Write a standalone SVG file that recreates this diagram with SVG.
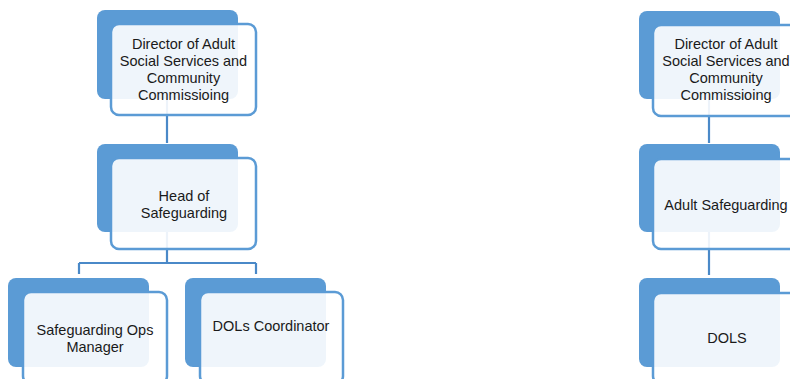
<svg xmlns="http://www.w3.org/2000/svg" width="790" height="379" viewBox="0 0 790 379">
<style>
.back{fill:#5B9BD5;}
.front{fill:#FFFFFF;fill-opacity:0.9;stroke:#5B9BD5;stroke-width:2.5;}
.conn{fill:none;stroke:#4A89C8;stroke-width:2.2;}
text{font-family:"Liberation Sans",Arial,sans-serif;font-size:14.5px;fill:#1a1a1a;text-anchor:middle;}
</style>
<rect width="790" height="379" fill="#FFFFFF"/>
<g id="connectors">
<path class="conn" d="M167,99 V143"/>
<path class="conn" d="M167,232 V263 M79,263 H256 M79,263 V274 M256,263 V274"/>
<path class="conn" d="M709,99 V143"/>
<path class="conn" d="M709,232 V275"/>
</g>
<g id="n1">
<rect class="back" x="97" y="10" width="141" height="89" rx="8"/>
<rect class="front" x="111" y="24" width="145" height="91" rx="8"/>
<text x="183.5"><tspan x="183.5" y="49">Director of Adult</tspan><tspan x="183.5" y="66">Social Services and</tspan><tspan x="183.5" y="83">Community</tspan><tspan x="183.5" y="100">Commissioing</tspan></text>
</g>
<g id="n2">
<rect class="back" x="97" y="144" width="141" height="88" rx="8"/>
<rect class="front" x="111" y="158" width="145" height="91" rx="8"/>
<text><tspan x="184" y="201">Head of</tspan><tspan x="184" y="218">Safeguarding</tspan></text>
</g>
<g id="n3">
<rect class="back" x="8" y="278" width="141" height="89" rx="8"/>
<rect class="front" x="23" y="292" width="144" height="92" rx="8"/>
<text><tspan x="95" y="335">Safeguarding Ops</tspan><tspan x="95" y="352">Manager</tspan></text>
</g>
<g id="n4">
<rect class="back" x="185" y="278" width="141" height="89" rx="8"/>
<rect class="front" x="200" y="292" width="143" height="92" rx="8"/>
<text x="271" y="331">DOLs Coordinator</text>
</g>
<g id="n5">
<rect class="back" x="639" y="11" width="141" height="88" rx="8"/>
<rect class="front" x="653" y="25" width="145" height="91" rx="8"/>
<text><tspan x="726" y="49">Director of Adult</tspan><tspan x="726" y="66">Social Services and</tspan><tspan x="726" y="83">Community</tspan><tspan x="726" y="100">Commissioing</tspan></text>
</g>
<g id="n6">
<rect class="back" x="639" y="144" width="141" height="88" rx="8"/>
<rect class="front" x="653" y="159" width="145" height="90" rx="8"/>
<text x="726" y="210">Adult Safeguarding</text>
</g>
<g id="n7">
<rect class="back" x="639" y="278" width="141" height="89" rx="8"/>
<rect class="front" x="653" y="293" width="145" height="91" rx="8"/>
<text x="727" y="343">DOLS</text>
</g>
</svg>
